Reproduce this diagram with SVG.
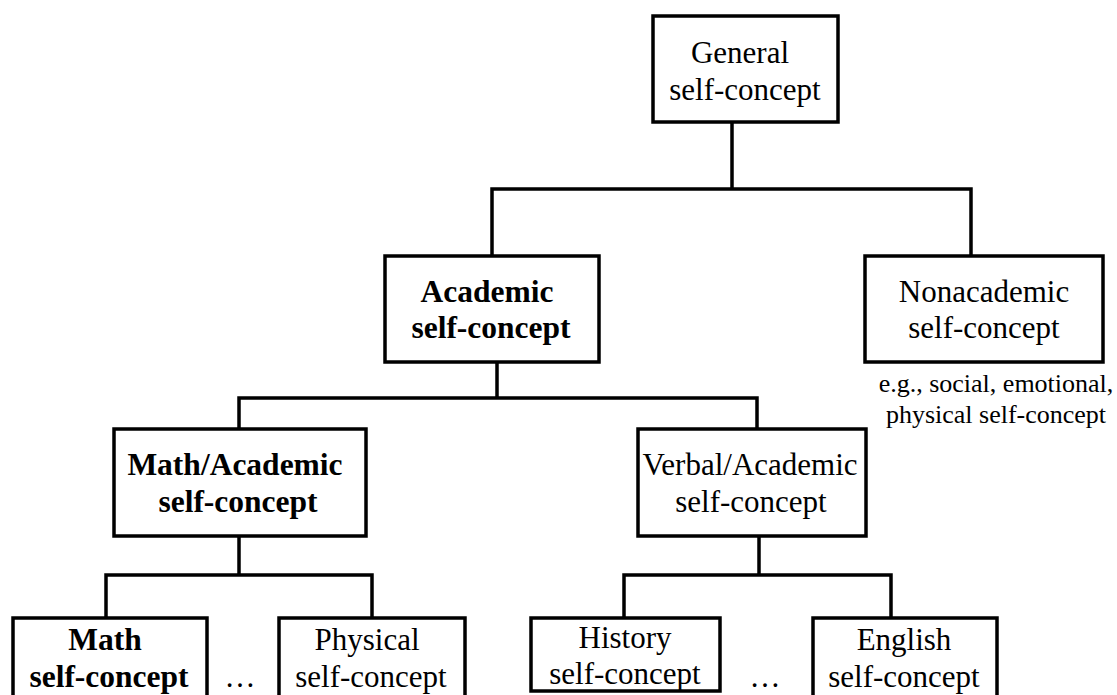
<svg xmlns="http://www.w3.org/2000/svg" width="1117" height="695" viewBox="0 0 1117 695">
<style>
.box{fill:#fff;stroke:#000;stroke-width:3.5}
.ln{fill:none;stroke:#000;stroke-width:3.5;stroke-linecap:square}
text{font-family:"Liberation Serif","Times New Roman",serif;font-size:31px;fill:#000;text-anchor:middle}
.b{font-weight:bold;font-size:31.5px}
.note{font-size:26px}
</style>
<rect width="1117" height="695" fill="#fff"/>
<g id="connectors">
<path class="ln" d="M732 122V189M492 189H971M492 189V256M971 189V256"/>
<path class="ln" d="M497 362V398M239 398H757M239 398V429M757 398V429"/>
<path class="ln" d="M239 536V575M106 575H372M106 575V618M372 575V618"/>
<path class="ln" d="M759 536V575M624 575H891M624 575V618M891 575V618"/>
</g>
<g id="general">
<rect class="box" x="653" y="16" width="185" height="106"/>
<text x="740" y="63">General</text>
<text x="745" y="100">self-concept</text>
</g>
<g id="academic">
<rect class="box" x="385" y="256" width="214" height="106"/>
<text class="b" x="487" y="302">Academic</text>
<text class="b" x="491" y="338">self-concept</text>
</g>
<g id="nonacademic">
<rect class="box" x="865" y="256" width="238" height="106"/>
<text x="984" y="302">Nonacademic</text>
<text x="984" y="338">self-concept</text>
<text class="note" x="996" y="392">e.g., social, emotional,</text>
<text class="note" x="996" y="423">physical self-concept</text>
</g>
<g id="math-academic">
<rect class="box" x="114" y="429" width="252" height="107"/>
<text class="b" x="235" y="475">Math/Academic</text>
<text class="b" x="238" y="512">self-concept</text>
</g>
<g id="verbal-academic">
<rect class="box" x="638" y="429" width="228" height="107"/>
<text x="750" y="475">Verbal/Academic</text>
<text x="751" y="512">self-concept</text>
</g>
<g id="math">
<rect class="box" x="13" y="618" width="194" height="90"/>
<text class="b" x="105" y="650">Math</text>
<text class="b" x="109" y="687">self-concept</text>
</g>
<text id="dots-left" x="240" y="687">…</text>
<g id="physical">
<rect class="box" x="279" y="618" width="186" height="90"/>
<text x="367" y="650">Physical</text>
<text x="371" y="687">self-concept</text>
</g>
<g id="history">
<rect class="box" x="531" y="618" width="189" height="73"/>
<text x="625" y="648">History</text>
<text x="625" y="684">self-concept</text>
</g>
<text id="dots-right" x="765" y="687">…</text>
<g id="english">
<rect class="box" x="813" y="618" width="184" height="90"/>
<text x="904" y="650">English</text>
<text x="904" y="687">self-concept</text>
</g>
</svg>
